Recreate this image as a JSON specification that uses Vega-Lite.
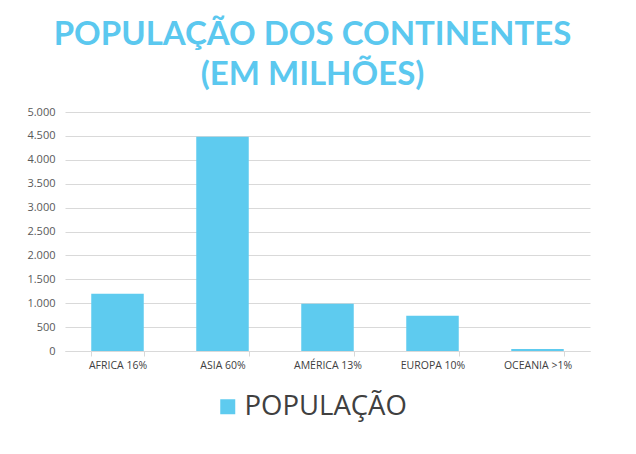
{
  "$schema": "https://vega.github.io/schema/vega-lite/v6.json",
  "width": 525,
  "height": 239,
  "autosize": {"type": "none"},
  "padding": {"left": 65, "top": 112, "right": 46, "bottom": 103},
  "background": "white",
  "title": {
    "text": ["POPULAÇÃO DOS CONTINENTES", "(EM MILHÕES)"],
    "font": "Lato",
    "fontSize": 33,
    "fontWeight": "bold",
    "color": "#5bc8ef",
    "lineHeight": 40,
    "anchor": "middle",
    "dx": -15,
    "offset": 14
  },
  "data": {
    "values": [
      {"continente": "AFRICA 16%", "populacao": 1200, "serie": "POPULAÇÃO"},
      {"continente": "ASIA 60%", "populacao": 4480, "serie": "POPULAÇÃO"},
      {"continente": "AMÉRICA 13%", "populacao": 990, "serie": "POPULAÇÃO"},
      {"continente": "EUROPA 10%", "populacao": 740, "serie": "POPULAÇÃO"},
      {"continente": "OCEANIA >1%", "populacao": 40, "serie": "POPULAÇÃO"}
    ]
  },
  "mark": {"type": "bar"},
  "encoding": {
    "x": {
      "field": "continente",
      "type": "nominal",
      "sort": null,
      "scale": {"paddingInner": 0.5, "paddingOuter": 0.25},
      "axis": {
        "title": null,
        "labelAngle": 0,
        "tickBand": "extent",
        "domainColor": "#d9d9d9",
        "tickColor": "#d9d9d9",
        "tickSize": 5,
        "labelPadding": 4,
        "labelFont": "Open Sans",
        "labelFontSize": 10.5,
        "labelColor": "#404040"
      }
    },
    "y": {
      "field": "populacao",
      "type": "quantitative",
      "scale": {"domain": [0, 5000]},
      "axis": {
        "title": null,
        "values": [0, 500, 1000, 1500, 2000, 2500, 3000, 3500, 4000, 4500, 5000],
        "format": ",.0f",
        "domain": false,
        "ticks": false,
        "labelPadding": 10,
        "gridColor": "#d9d9d9",
        "labelFont": "Open Sans",
        "labelFontSize": 11,
        "labelColor": "#595959"
      }
    },
    "color": {
      "field": "serie",
      "type": "nominal",
      "scale": {"range": ["#5ecbef"]},
      "legend": {
        "title": null,
        "orient": "none",
        "legendX": 149,
        "legendY": 281,
        "symbolType": "square",
        "symbolSize": 225,
        "symbolStrokeWidth": 0,
        "labelFont": "Open Sans",
        "labelFontSize": 27.5,
        "labelColor": "#404040",
        "labelOffset": 3,
        "labelLimit": 400
      }
    }
  },
  "config": {
    "view": {"stroke": null},
    "locale": {
      "number": {"decimal": ",", "thousands": ".", "grouping": [3], "currency": ["R$", ""]}
    }
  }
}
